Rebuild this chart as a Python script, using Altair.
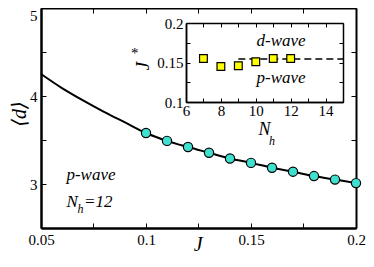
import altair as alt
import pandas as pd

SERIF = "Liberation Serif, Times New Roman, Times, DejaVu Serif, serif"
W, H = 315, 220

# ---- main panel data ----
curve_J = [0.05, 0.06, 0.07, 0.08, 0.09, 0.10, 0.11, 0.12, 0.13, 0.14, 0.15, 0.16, 0.17, 0.18, 0.19, 0.20]
curve_d = [4.25, 4.09, 3.95, 3.82, 3.70, 3.58, 3.49, 3.42, 3.355, 3.29, 3.24, 3.185, 3.14, 3.09, 3.05, 3.01]
pt_J = [0.10, 0.11, 0.12, 0.13, 0.14, 0.15, 0.16, 0.17, 0.18, 0.19, 0.20]
pt_d = [3.58, 3.49, 3.42, 3.355, 3.29, 3.24, 3.185, 3.14, 3.09, 3.05, 3.01]

# ---- inset data ----
ins_N = [7, 8, 9, 10, 11, 12]
ins_J = [0.155, 0.145, 0.146, 0.151, 0.155, 0.155]
dash_N = [9, 15]
dash_J = [0.1545, 0.1545]

# ---- tick values / labels ----
main_x_labels = [0.05, 0.1, 0.15, 0.2]
main_x_ticks = [0.05, 0.075, 0.1, 0.125, 0.15, 0.175, 0.2]
main_y_labels = [3, 4, 5]
main_y_ticks = [2.5, 3, 3.5, 4, 4.5, 5]
ins_x_labels = [6, 8, 10, 12, 14]
ins_x_ticks = [6, 7, 8, 9, 10, 11, 12, 13, 14, 15]
ins_y_labels = [0.1, 0.15, 0.2]
ins_y_ticks = [0.1, 0.125, 0.15, 0.175, 0.2]

# ---- annotations (main panel coordinates) ----
main_txt = pd.DataFrame({
    "text": ["p-wave", "N", "h", "=12", "J", "⟨d⟩"],
    "x": [0.0738, 0.0648, 0.0688, 0.0773, 0.1248, 0.0429],
    "y": [3.045, 2.742, 2.676, 2.742, 2.235, 3.795],
    "fs": [17, 17, 12, 17, 20, 20],
    "ang": [0, 0, 0, 0, 0, 270],
})
# ---- annotations (inset coordinates) ----
ins_txt = pd.DataFrame({
    "text": ["d-wave", "p-wave", "N", "h", "J", "*"],
    "x": [11.45, 11.45, 10.5, 10.93, 3.88, 3.02],
    "y": [0.1709, 0.1241, 0.0582, 0.0456, 0.1456, 0.1557],
    "fs": [17, 17, 18, 12, 19, 15],
    "ang": [0, 0, 0, 0, 270, 0],
})

curve_df = pd.DataFrame({"J": curve_J, "d": curve_d})
pt_df = pd.DataFrame({"J": pt_J, "d": pt_d})
sq_df = pd.DataFrame({"N": ins_N, "Js": ins_J})
dash_df = pd.DataFrame({"N": dash_N, "Js": dash_J})


def axis(orient, offset, values, labels=False, tick_size=5, domain_width=2.0,
         label_padding=3, **extra):
    kw = dict(orient=orient, offset=offset, values=values, title=None, grid=False,
              domain=True, domainColor="black", domainWidth=domain_width)
    if labels:
        kw.update(labels=True, ticks=False, format="~g", labelFont=SERIF,
                  labelFontSize=15, labelColor="black", labelPadding=label_padding,
                  labelFlush=False, labelOverlap=False)
    else:
        kw.update(labels=False, ticks=True, tickSize=tick_size, tickColor="black",
                  tickWidth=1)
    kw.update(extra)
    return alt.Axis(**kw)


mx = alt.Scale(domain=[0.05, 0.2], nice=False, zero=False)
my = alt.Scale(domain=[2.5, 5], nice=False, zero=False)
ix = alt.Scale(domain=[6, 15], range=[145, 302], nice=False, zero=False)
iy = alt.Scale(domain=[0.1, 0.2], range=[94, 15], nice=False, zero=False)

line = alt.Chart(curve_df).mark_line(color="black", strokeWidth=2, interpolate="monotone").encode(
    x=alt.X("J:Q", scale=mx, axis=axis("bottom", 0, main_x_labels, labels=True, label_padding=4)),
    y=alt.Y("d:Q", scale=my, axis=axis(
        "left", 0, main_y_labels, labels=True, label_padding=4,
        labelBaseline={"condition": {"test": "datum.value == 5", "value": "top"}, "value": "middle"})),
)

pts = alt.Chart(pt_df).mark_circle(size=85, color="#40E0D0", opacity=1, stroke="black",
                                    strokeWidth=1.2).encode(
    x=alt.X("J:Q", scale=mx, axis=axis("top", -H, main_x_ticks)),
    y=alt.Y("d:Q", scale=my, axis=axis("right", -W, main_y_ticks)),
)

mtext = alt.Chart(main_txt).mark_text(font=SERIF, fontStyle="italic", align="center",
                                      baseline="alphabetic", color="black").encode(
    x=alt.X("x:Q", scale=mx, axis=axis("bottom", -H, main_x_ticks)),
    y=alt.Y("y:Q", scale=my, axis=axis("left", -W, main_y_ticks)),
    text="text:N",
    size=alt.Size("fs:Q", scale=None),
    angle=alt.Angle("ang:Q", scale=None),
)

dash = alt.Chart(dash_df).mark_line(color="black", strokeWidth=1.5, strokeDash=[7, 4]).encode(
    x=alt.X("N:Q", scale=ix, axis=axis("bottom", 94 - H, ins_x_labels, labels=True,
                                         label_padding=1, domain_width=1.5)),
    y=alt.Y("Js:Q", scale=iy, axis=axis("left", -145, ins_y_labels, labels=True,
                                          label_padding=3, domain_width=1.5)),
)

sq = alt.Chart(sq_df).mark_square(size=60, color="#FFFF00", opacity=1, stroke="black",
                                  strokeWidth=1.2).encode(
    x=alt.X("N:Q", scale=ix, axis=axis("top", -94, ins_x_ticks, tick_size=4, domain_width=1.5)),
    y=alt.Y("Js:Q", scale=iy, axis=axis("right", 145 - W, ins_y_ticks, tick_size=4,
                                          domain_width=1.5)),
)

itext = alt.Chart(ins_txt).mark_text(font=SERIF, fontStyle="italic", align="center",
                                     baseline="alphabetic", color="black").encode(
    x=alt.X("x:Q", scale=ix, axis=axis("bottom", 15 - H, ins_x_ticks, tick_size=4,
                                         domain_width=1.5)),
    y=alt.Y("y:Q", scale=iy, axis=axis("left", -302, ins_y_ticks, tick_size=4,
                                         domain_width=1.5)),
    text="text:N",
    size=alt.Size("fs:Q", scale=None),
    angle=alt.Angle("ang:Q", scale=None),
)

chart = alt.layer(line, pts, mtext, dash, sq, itext).resolve_scale(
    x="independent", y="independent"
).resolve_axis(
    x="independent", y="independent"
).properties(
    width=W, height=H,
    autosize=alt.AutoSizeParams(type="none"),
    padding={"left": 33, "top": 0, "right": 10, "bottom": 31},
    background="white",
).configure_view(stroke=None)

chart.save("out.html", embed_options={"renderer": "svg", "actions": False})
